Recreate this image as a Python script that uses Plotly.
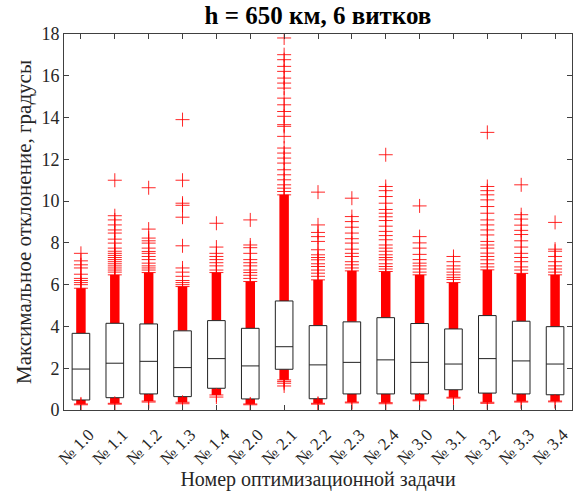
import plotly.graph_objects as go

labels = ["№ 1.0", "№ 1.1", "№ 1.2", "№ 1.3", "№ 1.4", "№ 2.0", "№ 2.1", "№ 2.2",
          "№ 2.3", "№ 2.4", "№ 3.0", "№ 3.1", "№ 3.2", "№ 3.3", "№ 3.4"]
positions = list(range(1, len(labels) + 1))

q1 = [0.48, 0.59, 0.77, 0.64, 1.04, 0.53, 1.95, 0.54, 0.77, 0.77, 0.77, 0.97, 0.81, 0.77, 0.73]
median = [1.96, 2.24, 2.33, 2.03, 2.46, 2.11, 3.03, 2.16, 2.28, 2.40, 2.28, 2.20, 2.46, 2.35, 2.20]
q3 = [3.67, 4.15, 4.12, 3.79, 4.28, 3.91, 5.22, 4.04, 4.22, 4.42, 4.14, 3.88, 4.52, 4.25, 3.99]

# extents of the solid mass of outliers just above Q3 and just below Q1
dense_top = [5.83, 6.47, 6.58, 5.91, 6.58, 6.15, 10.3, 6.23, 6.66, 6.63, 6.47, 6.10, 6.71, 6.54, 6.47]
dense_bottom = [0.29, 0.32, 0.43, 0.37, 0.72, 0.29, 1.44, 0.32, 0.38, 0.35, 0.48, 0.61, 0.37, 0.42, 0.43]

# individually visible outliers above the solid mass
upper_outliers = [
    [6.0, 6.1, 6.2, 6.3, 6.5, 6.8, 6.95, 7.14, 7.5],
    [6.6, 6.7, 6.8, 6.9, 7.0, 7.1, 7.2, 7.3, 7.4, 7.5, 7.6, 7.75, 7.99, 8.18, 8.47, 8.62, 8.86, 9.1, 9.3, 11.0],
    [6.7, 6.8, 6.9, 7.03, 7.2, 7.35, 7.5, 7.59, 7.75, 7.99, 8.1, 8.23, 8.66, 10.64],
    [6.0, 6.1, 6.2, 6.4, 6.6, 6.8, 7.86, 9.23, 9.8, 9.9, 11.0, 13.9],
    [6.7, 6.9, 7.05, 7.2, 7.35, 7.5, 7.8, 8.94],
    [6.3, 6.45, 6.58, 6.7, 6.9, 7.05, 7.2, 7.5, 7.77, 7.9, 9.1],
    [10.46, 10.62, 10.78, 11.02, 11.26, 11.5, 11.82, 12.06, 12.3, 12.54, 13.1, 13.58, 13.66,
     14.06, 14.29, 14.61, 14.93, 15.41, 15.65, 15.89, 16.21, 16.45, 16.77, 17.01, 17.81],
    [6.4, 6.55, 6.7, 6.87, 7.0, 7.19, 7.3, 7.43, 7.67, 8.07, 8.3, 8.5, 8.86, 10.43],
    [6.8, 6.95, 7.1, 7.35, 7.5, 7.7, 7.99, 8.2, 8.47, 8.75, 9.02, 9.26, 10.14],
    [6.75, 6.87, 7.0, 7.19, 7.3, 7.43, 7.6, 7.75, 7.9, 8.15, 8.35, 8.55, 8.8, 9.07, 9.25,
     9.42, 9.6, 9.9, 10.22, 10.5, 10.7, 12.22],
    [6.6, 6.75, 6.9, 7.03, 7.2, 7.45, 7.75, 8.0, 8.3, 9.77],
    [6.25, 6.35, 6.47, 6.6, 6.75, 6.9, 7.1, 7.35],
    [6.85, 7.0, 7.19, 7.35, 7.51, 7.75, 7.9, 8.07, 8.38, 8.62, 8.86, 9.1, 9.42, 9.74, 10.06,
     10.3, 10.5, 10.7, 13.29],
    [6.7, 6.85, 7.1, 7.3, 7.5, 7.8, 8.1, 8.4, 8.6, 8.85, 9.14, 9.35, 10.78],
    [6.6, 6.75, 6.9, 7.1, 7.35, 7.6, 7.7, 8.98],
]
# individually visible outliers below the solid mass
lower_outliers = [[0.25], [0.28], [0.38], [0.3], [0.62], [0.25], [1.36, 1.28, 1.15], [0.28],
                  [0.34], [0.3], [0.44], [0.57], [0.32], [0.38], [0.39]]

title = "h = 650 км, 6 витков"
x_title = "Номер оптимизационной задачи"
y_title = "Максимальное отклонение, градусы"
y_ticks = [0, 2, 4, 6, 8, 10, 12, 14, 16, 18]

RED = "rgba(255,0,0,0.85)"
FONT = "Liberation Serif"

fig = go.Figure()

# solid masses of outliers
fig.add_trace(go.Bar(x=positions, base=q3, y=[t - b for t, b in zip(dense_top, q3)],
                     width=0.28, marker=dict(color="#ff0000", line=dict(width=0)),
                     hoverinfo="skip", showlegend=False))
fig.add_trace(go.Bar(x=positions, base=dense_bottom, y=[b - d for b, d in zip(q1, dense_bottom)],
                     width=0.28, marker=dict(color="#ff0000", line=dict(width=0)),
                     hoverinfo="skip", showlegend=False))

# individual outliers (+ markers)
ox, oy = [], []
for p, ups, lows, dt, db in zip(positions, upper_outliers, lower_outliers, dense_top, dense_bottom):
    vals = [dt, db] + ups + lows
    ox += [p] * len(vals)
    oy += vals
fig.add_trace(go.Scatter(x=ox, y=oy, mode="markers",
                         marker=dict(symbol="cross-thin", size=10, color=RED,
                                     line=dict(color=RED, width=1)),
                         showlegend=False, hoverinfo="skip"))

# boxes (whiskers of zero length)
fig.add_trace(go.Box(x=positions, q1=q1, median=median, q3=q3,
                     lowerfence=q1, upperfence=q3, width=0.52,
                     line=dict(color="#222222", width=1), fillcolor="white",
                     whiskerwidth=0, showlegend=False))

fig.update_layout(
    width=576, height=491,
    margin=dict(l=64, r=4, t=34, b=81, autoexpand=False),
    paper_bgcolor="white", plot_bgcolor="white",
    barmode="overlay",
    font=dict(family=FONT, color="#262626", size=16),
    title=dict(text="<b>" + title + "</b>", x=0.552, xanchor="center", y=0.987, yanchor="top",
               font=dict(family=FONT, size=25, color="black")),
    xaxis=dict(range=[0.5, 15.5], tickvals=positions, ticktext=labels, tickangle=-45,
               ticks="inside", ticklen=5, tickcolor="#404040", showline=True, linecolor="#404040",
               linewidth=1, mirror="ticks", showgrid=False, zeroline=False,
               ticklabelstandoff=7, ticklabelshift=8, automargin=False,
               tickfont=dict(family=FONT, size=17, color="#262626"),
               title=dict(text=x_title, font=dict(family=FONT, size=20, color="#262626"), standoff=1)),
    yaxis=dict(range=[0, 18], tickvals=y_ticks, ticks="inside", ticklen=5, tickcolor="#404040",
               showline=True, linecolor="#404040", linewidth=1, mirror="ticks",
               showgrid=False, zeroline=False, automargin=False,
               tickfont=dict(family=FONT, size=18, color="#262626"),
               title=dict(text=y_title, font=dict(family=FONT, size=21, color="#262626"), standoff=4)),
)

fig.write_html("out.html")
